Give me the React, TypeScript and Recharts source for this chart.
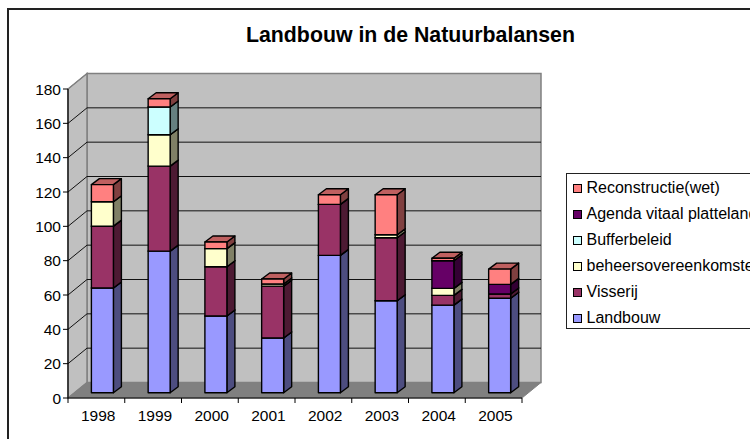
import React from "react";
import { ComposedChart, Bar, XAxis, YAxis, CartesianGrid, Legend } from "recharts";

const years = ["1998", "1999", "2000", "2001", "2002", "2003", "2004", "2005"];
const landbouw = [61, 82.5, 44.7, 31.9, 80, 53.6, 51, 55];
const visserij = [36, 49.5, 28.7, 30.2, 29.7, 36.7, 5.7, 2.5];
const beheer = [14.2, 18.3, 10.5, 1.2, 0, 1.7, 4.1, 0];
const buffer = [0, 16.1, 0, 0, 0, 0, 0, 0];
const agenda = [0, 0, 0, 0, 0, 0, 16.1, 5.6];
const reconstructie = [10, 4.8, 3.9, 2.9, 5.6, 23.3, 1.4, 8.9];
const yTicks = [0, 20, 40, 60, 80, 100, 120, 140, 160, 180];

const series = [
  { key: "landbouw", name: "Landbouw", values: landbouw, front: "#9999FF", side: "#4D4D80", top: "#7373BF" },
  { key: "visserij", name: "Visserij", values: visserij, front: "#993366", side: "#4D1A33", top: "#73264D" },
  { key: "beheer", name: "beheersovereenkomsten", values: beheer, front: "#FFFFCC", side: "#808066", top: "#BFBF99" },
  { key: "buffer", name: "Bufferbeleid", values: buffer, front: "#CCFFFF", side: "#668080", top: "#99BFBF" },
  { key: "agenda", name: "Agenda vitaal platteland", values: agenda, front: "#660066", side: "#330033", top: "#4D004D" },
  { key: "reconstructie", name: "Reconstructie(wet)", values: reconstructie, front: "#FF8080", side: "#804040", top: "#BF6060" },
];

const rows = years.map((year, i) => {
  const row: Record<string, string | number> = { year };
  series.forEach((s) => {
    row[s.key] = s.values[i];
  });
  return row;
});

const FONT = "'Liberation Sans', Arial, sans-serif";
const W = 750;
const H = 439;
const LEFT = 68;
const RIGHT = 522;
const TOP = 89;
const BOTTOM = 398;
const WALL_DX = 19;
const WALL_DY = 15.5;
const BAR_DX = 6.4;
const BAR_DY = 5.3;
const DEPTH_X = 8;
const DEPTH_Y = 6;
const BAND = (RIGHT - LEFT) / years.length;

function makeBox(front: string, side: string, top: string) {
  return function Box(props: any) {
    const { x, y, width, height } = props;
    if (!height || height <= 0) return null;
    const l = x + BAR_DX;
    const r = l + width;
    const t = y - BAR_DY;
    const b = t + height;
    const common = { stroke: "#000", strokeWidth: 1.4, strokeLinejoin: "round" as const };
    return (
      <g>
        <polygon points={`${r},${t} ${r + DEPTH_X},${t - DEPTH_Y} ${r + DEPTH_X},${b - DEPTH_Y} ${r},${b}`} fill={side} {...common} />
        <polygon points={`${l},${t} ${l + DEPTH_X},${t - DEPTH_Y} ${r + DEPTH_X},${t - DEPTH_Y} ${r},${t}`} fill={top} {...common} />
        <rect x={l} y={t} width={width} height={height} fill={front} {...common} />
      </g>
    );
  };
}

function gridLine(props: any) {
  const { x1, x2, y1 } = props;
  if (Math.abs(y1 - BOTTOM) < 1) return <g key={props.key} />;
  const isTop = Math.abs(y1 - TOP) < 1;
  const color = isTop ? "#808080" : "#111";
  const yb = y1 - WALL_DY;
  return (
    <g key={props.key} fill="none" stroke={color} strokeWidth={1}>
      <line x1={x1} y1={y1} x2={x1 + WALL_DX} y2={yb} />
      <line x1={x1 + WALL_DX} y1={yb} x2={x2 + WALL_DX} y2={yb} />
    </g>
  );
}

function XTick(props: any) {
  const { x, payload, index } = props;
  const isLast = index === years.length - 1;
  const tickY = BOTTOM;
  return (
    <g>
      <line x1={x - BAND / 2} y1={tickY} x2={x - BAND / 2} y2={tickY + 5} stroke="#000" />
      {isLast && <line x1={x + BAND / 2} y1={tickY} x2={x + BAND / 2} y2={tickY + 5} stroke="#000" />}
      <text x={x + 1.8} y={421} textAnchor="middle" fontFamily={FONT} fontSize={15.5} fill="#000">
        {payload.value}
      </text>
    </g>
  );
}

function LegendBox() {
  return (
    <div
      style={{
        width: 240,
        height: 156,
        boxSizing: "border-box",
        border: "1px solid #222",
        background: "#fff",
        fontFamily: FONT,
        fontSize: 16,
        color: "#000",
        paddingTop: 1,
      }}
    >
      {[...series].reverse().map((s) => (
        <div key={s.key} style={{ height: 26, display: "flex", alignItems: "center", whiteSpace: "nowrap" }}>
          <span
            style={{
              display: "inline-block",
              boxSizing: "border-box",
              width: 9,
              height: 9,
              marginLeft: 5.5,
              marginRight: 5,
              background: s.front,
              border: "1px solid #000",
            }}
          />
          {s.name}
        </div>
      ))}
    </div>
  );
}

export default function App() {
  return (
    <div style={{ position: "absolute", left: 0, top: 0, width: W, height: H, overflow: "hidden", background: "#fff" }}>
      <div style={{ position: "absolute", left: 7, top: 8, width: W, height: H, borderLeft: "2px solid #222", borderTop: "2px solid #222" }} />
      <svg width={W} height={H} style={{ position: "absolute", left: 0, top: 0 }}>
        <polygon
          points={`${LEFT + WALL_DX},${TOP - WALL_DY} ${RIGHT + WALL_DX},${TOP - WALL_DY} ${RIGHT + WALL_DX},${BOTTOM - WALL_DY} ${LEFT + WALL_DX},${BOTTOM - WALL_DY}`}
          fill="#C0C0C0"
          stroke="#808080"
          strokeWidth={1.5}
        />
        <polygon
          points={`${LEFT},${TOP} ${LEFT + WALL_DX},${TOP - WALL_DY} ${LEFT + WALL_DX},${BOTTOM - WALL_DY} ${LEFT},${BOTTOM}`}
          fill="#C0C0C0"
          stroke="#808080"
          strokeWidth={1.5}
        />
        <polygon
          points={`${LEFT},${BOTTOM} ${LEFT + WALL_DX},${BOTTOM - WALL_DY} ${RIGHT + WALL_DX},${BOTTOM - WALL_DY} ${RIGHT},${BOTTOM}`}
          fill="#808080"
          stroke="#808080"
        />
      </svg>
      <div
        style={{
          position: "absolute",
          left: 246,
          top: 22,
          fontFamily: FONT,
          fontWeight: "bold",
          fontSize: 21.3,
          lineHeight: "26px",
          whiteSpace: "nowrap",
          color: "#000",
        }}
      >
        Landbouw in de Natuurbalansen
      </div>
      <div style={{ position: "absolute", left: 0, top: 0 }}>
        <ComposedChart
          width={W}
          height={H}
          data={rows}
          margin={{ top: TOP, right: W - RIGHT, bottom: 0, left: 0 }}
          barCategoryGap={0}
        >
          <CartesianGrid vertical={false} horizontal={gridLine} />
          <XAxis
            dataKey="year"
            height={H - BOTTOM}
            axisLine={{ stroke: "#000", strokeWidth: 1.2 }}
            tickLine={false}
            interval={0}
            tick={XTick}
          />
          <YAxis
            width={LEFT}
            domain={[0, 180]}
            ticks={yTicks}
            interval={0}
            axisLine={{ stroke: "#000", strokeWidth: 1.2 }}
            tickLine={{ stroke: "#000" }}
            tickSize={5}
            tick={{ fontFamily: FONT, fontSize: 15.5, fill: "#000" }}
          />
          {series.map((s) => (
            <Bar
              key={s.key}
              dataKey={s.key}
              name={s.name}
              stackId="a"
              barSize={22}
              isAnimationActive={false}
              shape={makeBox(s.front, s.side, s.top)}
            />
          ))}
          <Legend
            layout="vertical"
            align="center"
            verticalAlign="middle"
            content={() => <LegendBox />}
            wrapperStyle={{ left: 566, top: 173, width: 240, margin: 0 }}
          />
        </ComposedChart>
      </div>
    </div>
  );
}
